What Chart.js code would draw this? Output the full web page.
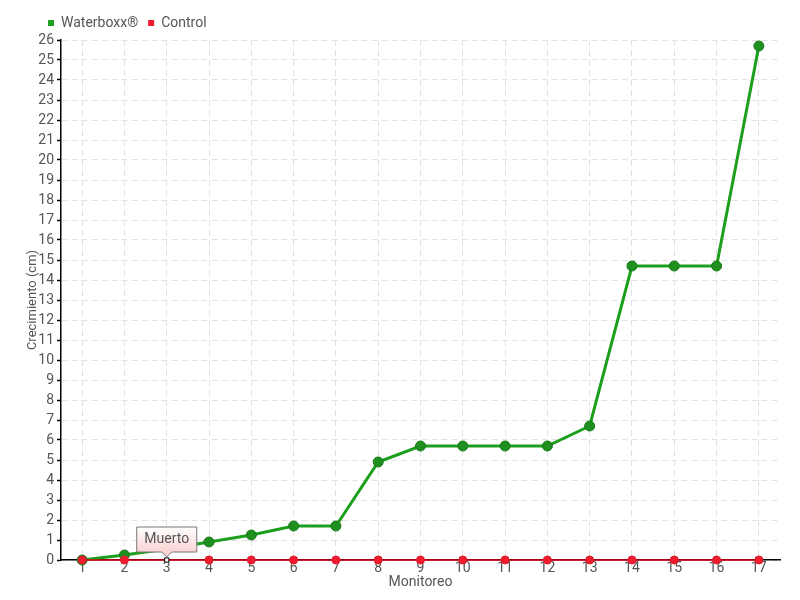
<!DOCTYPE html>
<html>
<head>
<meta charset="utf-8">
<script src="https://cdn.jsdelivr.net/npm/chart.js@4/dist/chart.umd.min.js"></script>
<style>
  html, body { margin: 0; padding: 0; background: #fff; }
  #wrap { width: 800px; height: 600px; }
</style>
</head>
<body>
<div id="wrap"><canvas id="growthChart" width="800" height="600"></canvas></div>
<script>
// monitoring rounds and growth (cm)
const monitoreos = ['1','2','3','4','5','6','7','8','9','10','11','12','13','14','15','16','17'];
const waterboxx = [0, 0.25, 0.55, 0.9, 1.25, 1.7, 1.7, 4.9, 5.7, 5.7, 5.7, 5.7, 6.7, 14.7, 14.7, 14.7, 25.7];
const control   = [0, 0, 0, 0, 0, 0, 0, 0, 0, 0, 0, 0, 0, 0, 0, 0, 0];
const deadIndex = 2;          // control plant marked dead at monitoring 3
const deadLabel = 'Muerto';

const FONT = "Roboto, 'Liberation Sans Narrow', sans-serif";
const TEXT = '#555';

// per-point styles for control (white square on the dead one)
const ctlStyle = control.map((v, i) => i === deadIndex ? 'rect' : 'circle');
const ctlFill = control.map((v, i) => i === deadIndex ? '#fff' : '#ee1c2e');
const ctlBorder = control.map((v, i) => i === deadIndex ? '#000' : '#e0182a');
const ctlRadius = control.map((v, i) => i === deadIndex ? 3 : 4);

// move legend to the right a bit (it starts over the y axis in the original)
const legendShift = {
    id: 'legendShift',
    afterLayout(chart) {
        if (chart.legend) {
            chart.legend.left += 38;
            chart.legend.right += 38;
        }
    }
};

// "Muerto" call-out box above the dead control point
const deadCallout = {
    id: 'deadCallout',
    afterDatasetsDraw(chart) {
        const meta = chart.getDatasetMeta(1);
        const pt = meta.data[deadIndex];
        if (!pt) return;
        const ctx = chart.ctx;
        const w = 60, h = 25;
        const x0 = pt.x - w / 2, y1 = pt.y - 8, y0 = y1 - h;
        ctx.save();
        const grad = ctx.createLinearGradient(0, y0, 0, y1);
        grad.addColorStop(0, '#ffffff');
        grad.addColorStop(1, '#fbd3d3');
        ctx.beginPath();
        ctx.moveTo(x0, y0);
        ctx.lineTo(x0 + w, y0);
        ctx.lineTo(x0 + w, y1);
        ctx.lineTo(pt.x + 5, y1);
        ctx.lineTo(pt.x, y1 + 5);
        ctx.lineTo(pt.x - 5, y1);
        ctx.lineTo(x0, y1);
        ctx.closePath();
        ctx.fillStyle = grad;
        ctx.fill();
        ctx.strokeStyle = '#777';
        ctx.lineWidth = 1;
        ctx.stroke();
        ctx.fillStyle = TEXT;
        ctx.font = '14px ' + FONT;
        ctx.textAlign = 'center';
        ctx.textBaseline = 'middle';
        ctx.fillText(deadLabel, pt.x, y0 + h / 2);
        ctx.restore();
    }
};

const ctx = document.getElementById('growthChart').getContext('2d');
new Chart(ctx, {
    type: 'line',
    data: {
        labels: monitoreos,
        datasets: [
            {
                label: 'Waterboxx®',
                data: waterboxx,
                borderColor: '#1c9f1c',
                backgroundColor: '#1f8f1f',
                pointBackgroundColor: '#1f8f1f',
                pointBorderColor: '#187a18',
                pointBorderWidth: 1,
                pointRadius: 5,
                borderWidth: 3,
                tension: 0,
                fill: false,
                clip: false,
                order: 2
            },
            {
                label: 'Control',
                data: control,
                borderColor: '#e3001b',
                backgroundColor: '#ee1c2e',
                pointBackgroundColor: ctlFill,
                pointBorderColor: ctlBorder,
                pointStyle: ctlStyle,
                pointRadius: ctlRadius,
                pointBorderWidth: 1,
                borderWidth: 1.5,
                tension: 0,
                fill: false,
                clip: false,
                order: 1
            }
        ]
    },
    options: {
        responsive: false,
        animation: false,
        layout: { padding: { top: 6, left: 0, right: 20, bottom: 4 } },
        plugins: {
            tooltip: { enabled: false },
            legend: {
                position: 'top',
                align: 'start',
                labels: {
                    boxWidth: 6,
                    boxHeight: 6,
                    padding: 10,
                    color: TEXT,
                    font: { family: FONT, size: 14 },
                    sort: (a, b) => a.datasetIndex - b.datasetIndex,
                    generateLabels: (chart) => chart.data.datasets.map((ds, i) => ({
                        text: ds.label,
                        fillStyle: i === 0 ? '#1fa01f' : '#ee1c2e',
                        strokeStyle: i === 0 ? '#1fa01f' : '#ee1c2e',
                        lineWidth: 0,
                        datasetIndex: i,
                        fontColor: TEXT
                    }))
                }
            }
        },
        scales: {
            x: {
                offset: true,
                grid: {
                    offset: false,
                    color: '#e2e2e2',
                    drawTicks: false
                },
                border: { color: '#000', width: 1.5, dash: [6, 4] },
                ticks: {
                    color: TEXT,
                    padding: 0,
                    maxRotation: 0,
                    font: { family: FONT, size: 14 }
                },
                title: {
                    display: true,
                    text: 'Monitoreo',
                    color: TEXT,
                    padding: { top: 0, bottom: 5 },
                    font: { family: FONT, size: 14 }
                },
                afterFit: (scale) => { scale.height = 36; }
            },
            y: {
                min: 0,
                max: 26,
                grid: {
                    color: '#e2e2e2',
                    tickColor: '#000',
                    tickLength: 4,
                    tickWidth: 1.5
                },
                border: { color: '#000', width: 1.5, dash: [6, 4] },
                ticks: {
                    stepSize: 1,
                    color: TEXT,
                    padding: 3,
                    font: { family: FONT, size: 14 }
                },
                title: {
                    display: true,
                    text: 'Crecimiento (cm)',
                    color: TEXT,
                    padding: { top: 25, bottom: 0 },
                    font: { family: FONT, size: 13 }
                },
                afterFit: (scale) => { scale.width = 61; }
            }
        }
    },
    plugins: [legendShift, deadCallout]
});
</script>
</body>
</html>
